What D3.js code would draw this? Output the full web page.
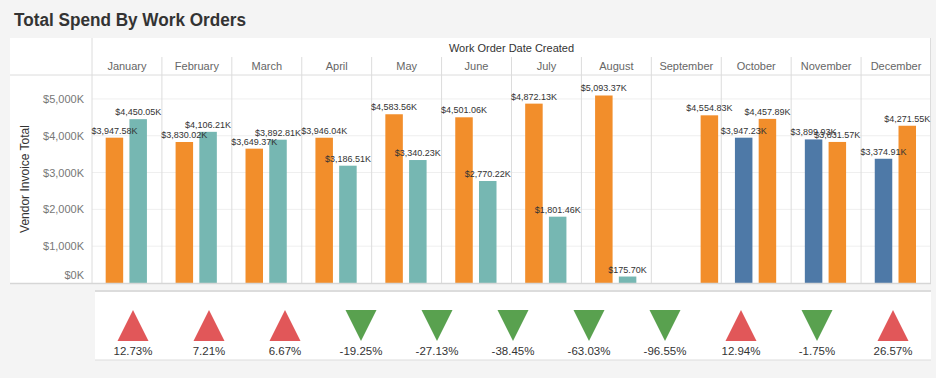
<!DOCTYPE html>
<html>
<head>
<meta charset="utf-8">
<script src="https://cdn.jsdelivr.net/npm/d3@7"></script>
<style>
  html, body { margin: 0; padding: 0; background: #f4f4f4; }
  svg { display: block; font-family: "Liberation Sans", Arial, sans-serif; }
</style>
</head>
<body>
<svg id="chart" width="936" height="378"></svg>
<script>
// ---------------- DATA ----------------
const months = ["January","February","March","April","May","June","July","August","September","October","November","December"];
// blue series (Oct–Dec only)
const blueValues   = [null,null,null,null,null,null,null,null,null,3947.23,3899.93,3374.91];
// orange series (all months)
const orangeValues = [3947.58,3830.02,3649.37,3946.04,4583.56,4501.06,4872.13,5093.37,4554.83,4457.89,3831.57,4271.55];
// teal series (Jan–Aug only)
const tealValues   = [4450.05,4106.21,3892.81,3186.51,3340.23,2770.22,1801.46,175.70,null,null,null,null];
const yTicks = [0,1000,2000,3000,4000,5000];
// percent change indicators (months with two bars)
const changeLabels = ["12.73%","7.21%","6.67%","-19.25%","-27.13%","-38.45%","-63.03%","-96.55%","12.94%","-1.75%","26.57%"];
const changeValues = [12.73,7.21,6.67,-19.25,-27.13,-38.45,-63.03,-96.55,12.94,-1.75,26.57];

const seriesColors = { blue: "#4e79a7", orange: "#f28e2b", teal: "#76b7b2" };

// ---------------- LAYOUT ----------------
const svg = d3.select("#chart");
const panel = { x0: 10, x1: 931, y0: 38, y1: 283 };
const plotX0 = 92, plotX1 = 931, headerY = 75, monthTop = 57;

// title
svg.append("text").attr("x", 14).attr("y", 26)
  .attr("font-size", 18).attr("font-weight", "bold").attr("fill", "#333")
  .attr("textLength", 232).attr("lengthAdjust", "spacingAndGlyphs")
  .text("Total Spend By Work Orders");

// white panel
svg.append("rect").attr("x", panel.x0).attr("y", panel.y0)
  .attr("width", panel.x1 - panel.x0).attr("height", panel.y1 - panel.y0)
  .attr("fill", "#fff");

const x = d3.scaleBand().domain(months).range([plotX0, plotX1]).paddingInner(0).paddingOuter(0);
const y = d3.scaleLinear().domain([0, 5650]).range([panel.y1, headerY]);

// gridlines
svg.append("g").selectAll("line").data(yTicks.filter(d => d > 0)).join("line")
  .attr("x1", plotX0).attr("x2", plotX1)
  .attr("y1", d => y(d)).attr("y2", d => y(d))
  .attr("stroke", "#efefef").attr("stroke-width", 1);

// y axis labels
const yAxis = d3.axisLeft(y).tickValues(yTicks).tickSize(0).tickPadding(0)
  .tickFormat(d => "$" + d3.format(",")(d) + "K");
const yg = svg.append("g").attr("transform", `translate(84,0)`).call(yAxis);
yg.select(".domain").remove();
yg.selectAll("text").attr("font-size", 11).attr("fill", "#777")
  .attr("font-family", "Liberation Sans, Arial, sans-serif")
  .attr("dy", (d) => d === 0 ? "-0.45em" : "0.32em");

// y axis title
svg.append("text")
  .attr("transform", `translate(29,${(headerY + panel.y1) / 2}) rotate(-90)`)
  .attr("text-anchor", "middle").attr("font-size", 12).attr("fill", "#333")
  .text("Vendor Invoice Total");

// header
svg.append("text").attr("x", (plotX0 + plotX1) / 2).attr("y", 52)
  .attr("text-anchor", "middle").attr("font-size", 11).attr("fill", "#333")
  .text("Work Order Date Created");
svg.append("g").selectAll("text").data(months).join("text")
  .attr("x", d => x(d) + x.bandwidth() / 2).attr("y", 70)
  .attr("text-anchor", "middle").attr("font-size", 11).attr("fill", "#666")
  .text(d => d);

// lines
const lineColor = "#dcdcdc";
svg.append("line").attr("x1", panel.x0).attr("x2", plotX1).attr("y1", headerY).attr("y2", headerY)
  .attr("stroke", lineColor);
svg.append("line").attr("x1", plotX0).attr("x2", plotX0).attr("y1", panel.y0).attr("y2", panel.y1)
  .attr("stroke", lineColor);
svg.append("line").attr("x1", plotX1 - 0.5).attr("x2", plotX1 - 0.5).attr("y1", panel.y0).attr("y2", panel.y1)
  .attr("stroke", lineColor);
svg.append("g").selectAll("line").data(months.slice(1)).join("line")
  .attr("x1", d => x(d)).attr("x2", d => x(d))
  .attr("y1", monthTop).attr("y2", panel.y1)
  .attr("stroke", lineColor);

// bars
const bars = [];
months.forEach((m, i) => {
  const present = [];
  if (blueValues[i] != null) present.push({ key: "blue", v: blueValues[i] });
  if (orangeValues[i] != null) present.push({ key: "orange", v: orangeValues[i] });
  if (tealValues[i] != null) present.push({ key: "teal", v: tealValues[i] });
  // sub-band: two bars centred in the column; a lone bar sits in the last of three slots
  const slots = present.length === 1 ? ["s0", "s1", "s2"] : ["s0", "s1"];
  const step = 23.75, bw = 17.5;
  const total = step * slots.length;
  const c = x(m) + 34.3;
  const sub = d3.scaleBand().domain(slots).range([c - total / 2, c + total / 2]).paddingInner((step - bw) / step).paddingOuter((step - bw) / step / 2);
  present.forEach((p, j) => {
    const slot = present.length === 1 ? "s2" : slots[j];
    bars.push({ month: m, key: p.key, v: p.v, x: sub(slot), w: sub.bandwidth() });
  });
});

svg.append("g").selectAll("rect").data(bars).join("rect")
  .attr("x", d => d.x).attr("width", d => d.w)
  .attr("y", d => y(d.v)).attr("height", d => y(0) - y(d.v))
  .attr("fill", d => seriesColors[d.key]);

svg.append("g").selectAll("text").data(bars).join("text")
  .attr("x", d => d.x + d.w / 2).attr("y", d => y(d.v) - 4)
  .attr("text-anchor", "middle").attr("font-size", 9).attr("fill", "#333")
  .text(d => "$" + d3.format(",.2f")(d.v) + "K");

// baseline
svg.append("line").attr("x1", panel.x0).attr("x2", plotX1).attr("y1", panel.y1 + 0.5).attr("y2", panel.y1 + 0.5)
  .attr("stroke", "#d6d6d6").attr("stroke-width", 1.5);

// ---------------- BOTTOM KPI PANEL ----------------
const kp = { x0: 95, x1: 931, y0: 291, y1: 360 };
svg.append("rect").attr("x", kp.x0).attr("y", kp.y0).attr("width", kp.x1 - kp.x0).attr("height", kp.y1 - kp.y0)
  .attr("fill", "#fff");
svg.append("line").attr("x1", kp.x0).attr("x2", kp.x1).attr("y1", kp.y0).attr("y2", kp.y0)
  .attr("stroke", "#dcdcdc").attr("stroke-width", 2);
svg.append("line").attr("x1", kp.x0).attr("x2", kp.x1).attr("y1", kp.y1).attr("y2", kp.y1)
  .attr("stroke", "#dcdcdc").attr("stroke-width", 1);

const kx = d3.scaleBand().domain(d3.range(changeValues.length)).range([kp.x0, kp.x1]);
const triTop = 310, triBot = 341, triHalf = 15.5;
svg.append("g").selectAll("path").data(changeValues).join("path")
  .attr("d", (d, i) => {
    const cx = kx(i) + kx.bandwidth() / 2;
    const p = d3.path();
    if (d >= 0) { p.moveTo(cx, triTop); p.lineTo(cx + triHalf, triBot); p.lineTo(cx - triHalf, triBot); }
    else { p.moveTo(cx - triHalf, triTop); p.lineTo(cx + triHalf, triTop); p.lineTo(cx, triBot); }
    p.closePath();
    return p.toString();
  })
  .attr("fill", d => d >= 0 ? "#e15759" : "#59a14f");

svg.append("g").selectAll("text").data(changeLabels).join("text")
  .attr("x", (d, i) => kx(i) + kx.bandwidth() / 2).attr("y", 355)
  .attr("text-anchor", "middle").attr("font-size", 11.5).attr("fill", "#333")
  .text(d => d);
</script>
</body>
</html>
